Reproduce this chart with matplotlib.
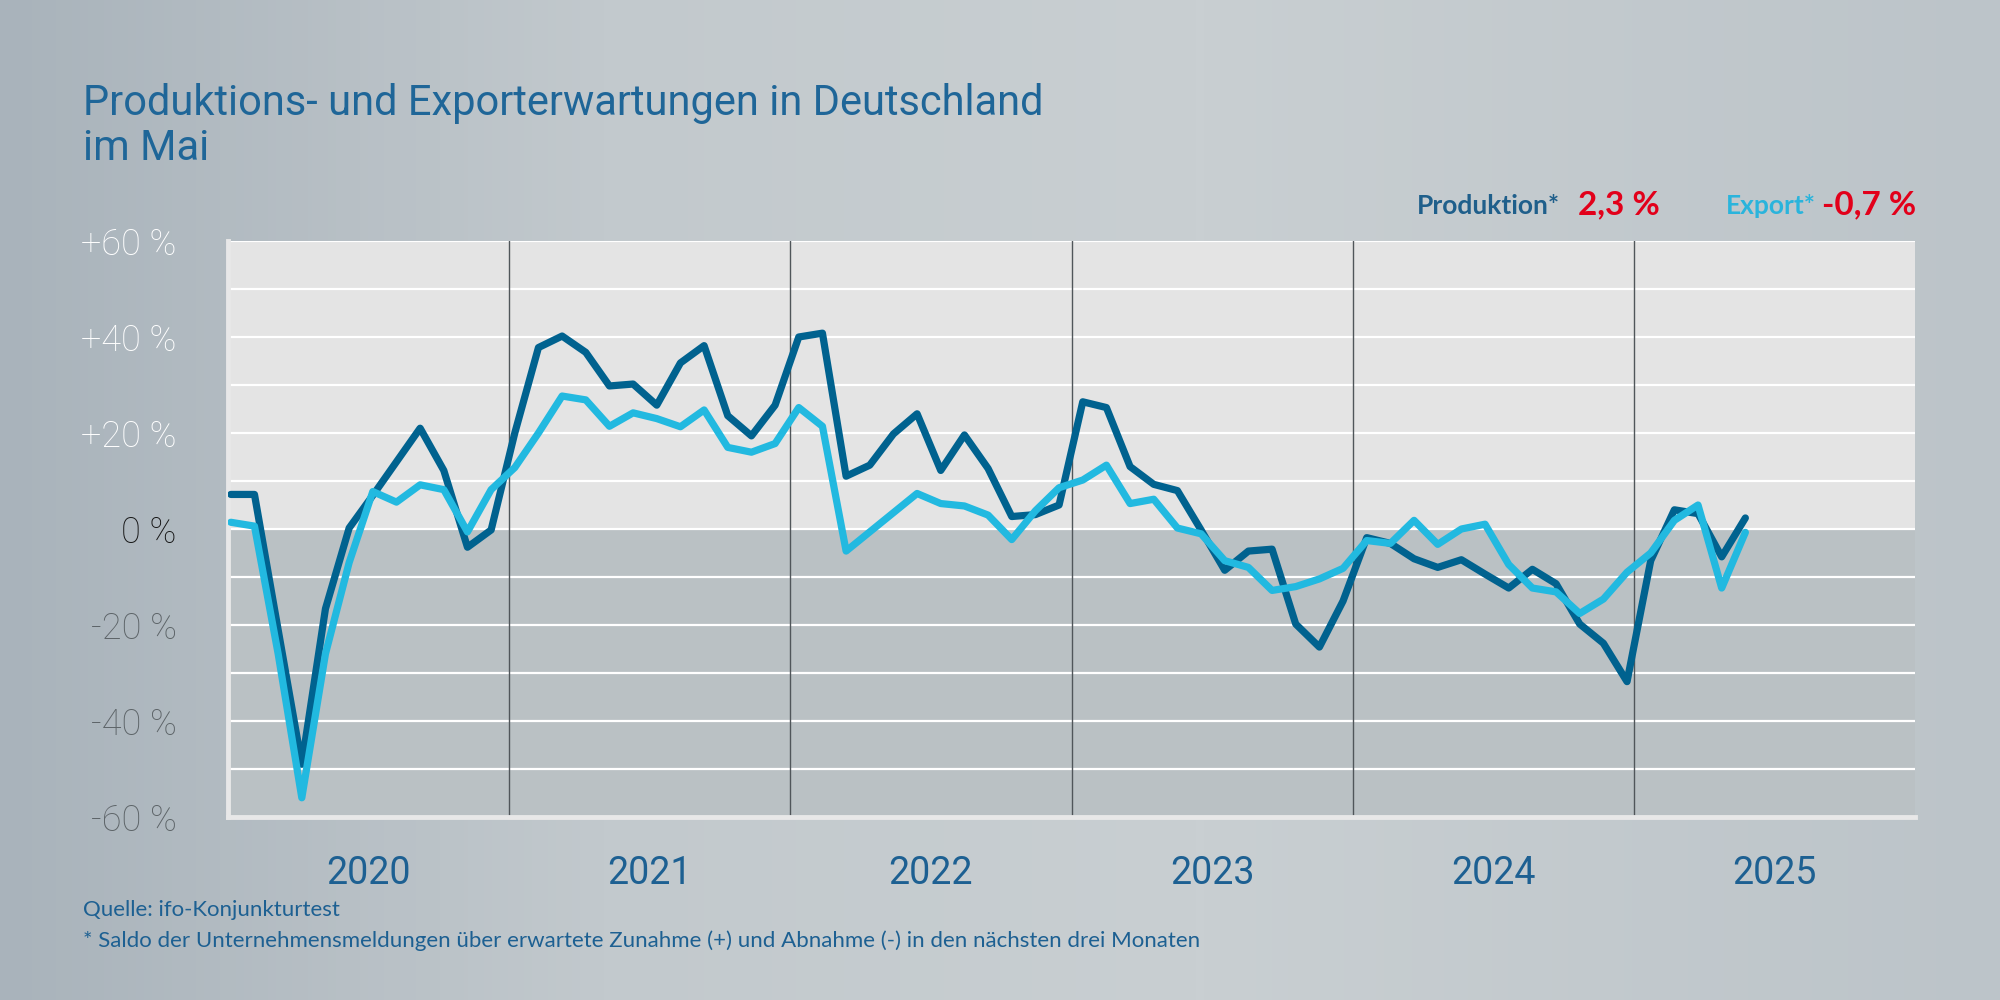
import numpy as np
import matplotlib.pyplot as plt
from matplotlib.colors import LinearSegmentedColormap

# ifo-Konjunkturtest, Salden in %, Jan 2020 bis Mai 2025
produktion = [7.2, 7.2, -21, -49, -16.6, 0.2, 7, 14, 21, 12.2, -3.8, -0.2,
              20, 37.8, 40.2, 36.8, 29.8, 30.2, 25.8, 34.6, 38.2, 23.6, 19.4, 25.8,
              40, 40.8, 11, 13.3, 19.8, 24, 12.2, 19.6, 12.6, 2.6, 3.0, 5.0,
              26.5, 25.3, 13, 9.3, 8, -0.2, -8.6, -4.6, -4.2, -19.8, -24.6, -15,
              -1.8, -3, -6.2, -8, -6.4, -9.4, -12.3, -8.4, -11.4, -19.8, -23.8, -31.8,
              -6.6, 4, 3.2, -5.8, 2.3]
export = [1.4, 0.6, -26, -56, -26, -7, 7.8, 5.6, 9.2, 8.2, -0.6, 8.2,
          12.8, 20, 27.7, 26.9, 21.4, 24.2, 23, 21.3, 24.8, 17, 16, 17.8,
          25.3, 21.4, -4.6, -0.6, 3.4, 7.4, 5.3, 4.8, 2.9, -2.2, 3.8, 8.6,
          10.2, 13.3, 5.3, 6.2, 0.2, -1, -6.6, -8, -12.8, -12, -10.4, -8.2,
          -2.4, -3, 1.8, -3.2, 0, 1.0, -7.4, -12.3, -13.1, -17.6, -14.6, -9,
          -5, 1.8, 5, -12.3, -0.7]
jahre = ['2020', '2021', '2022', '2023', '2024', '2025']
yticks = [-60, -40, -20, 0, 20, 40, 60]
ylabels = ['-60 %', '-40 %', '-20 %', '0 %', '+20 %', '+40 %', '+60 %']
ycolors = ['#5d6468', '#5d6468', '#5d6468', '#161616', 'white', 'white', 'white']

c_prod = '#00628f'
c_exp = '#22b9e0'
c_text = '#1d6092'

fig = plt.figure(figsize=(20, 10), dpi=100)

# background gradient
bg = fig.add_axes([0, 0, 1, 1], zorder=-10)
cmap = LinearSegmentedColormap.from_list('bg', [(0, '#a9b3bb'), (0.3, '#c2c9cd'),
                                                (0.6, '#c9cfd2'), (1, '#bcc4c9')])
bg.imshow(np.linspace(0, 1, 500).reshape(1, -1), cmap=cmap, aspect='auto',
          extent=[0, 1, 0, 1])
bg.set_axis_off()

ax = fig.add_axes([0.114, 0.183, 0.8435, 0.576])
ax.set_xlim(0, 72)
ax.set_ylim(-60, 60)
ax.axhspan(0, 60, color='#e4e4e4', zorder=0)
ax.axhspan(-60, 0, color='#bac1c4', zorder=0)
for y in range(-50, 61, 10):
    ax.axhline(y, color='white', lw=1.6, zorder=1)
for k in range(1, 6):
    ax.axvline(12 * k, color='#50565a', lw=1, zorder=1)

# monthly points, Jan 2020 sits right at the left edge
x = 0.12 + 1.01 * np.arange(len(produktion))
ax.plot(x, produktion, color=c_prod, lw=5.2, solid_joinstyle='round',
        solid_capstyle='round', zorder=3)
ax.plot(x, export, color=c_exp, lw=5.2, solid_joinstyle='round',
        solid_capstyle='round', zorder=4)

for s in ['top', 'right']:
    ax.spines[s].set_visible(False)
for s in ['left', 'bottom']:
    ax.spines[s].set_color('#e8e8e8')
    ax.spines[s].set_linewidth(3.5)

ax.set_yticks(yticks)
ax.set_yticklabels(ylabels, fontsize=26, fontfamily='Roboto', fontweight='light')
for lab, c in zip(ax.get_yticklabels(), ycolors):
    lab.set_color(c)
ax.tick_params(axis='y', length=0, pad=37)

ax.set_xticks([12 * k + 6 for k in range(6)])
ax.set_xticklabels(jahre, fontsize=27, fontfamily='Roboto', color=c_text)
ax.tick_params(axis='x', length=0, pad=27)

fig.text(0.0416, 0.885, 'Produktions- und Exporterwartungen in Deutschland',
         fontsize=30, fontfamily='Roboto', color='#1f6698', va='baseline')
fig.text(0.0416, 0.84, 'im Mai', fontsize=30, fontfamily='Roboto',
         color='#1f6698', va='baseline')

fig.text(0.7798, 0.786, 'Produktion*', fontsize=19, fontfamily='Lato',
         fontweight='bold', color='#1f5f8b', ha='right', va='baseline')
fig.text(0.8297, 0.786, '2,3 %', fontsize=24, fontfamily='Lato',
         fontweight='bold', color='#e2001a', ha='right', va='baseline')
fig.text(0.9078, 0.786, 'Export*', fontsize=19, fontfamily='Lato',
         fontweight='bold', color='#2ab4dc', ha='right', va='baseline')
fig.text(0.958, 0.786, '-0,7 %', fontsize=24, fontfamily='Lato',
         fontweight='bold', color='#e2001a', ha='right', va='baseline')

fig.text(0.0416, 0.084, 'Quelle: ifo-Konjunkturtest', fontsize=16,
         fontfamily='Lato', color=c_text, va='baseline')
fig.text(0.0416, 0.053, '* Saldo der Unternehmensmeldungen über erwartete Zunahme (+) '
         'und Abnahme (-) in den nächsten drei Monaten', fontsize=16,
         fontfamily='Lato', color=c_text, va='baseline')

fig.savefig('out.png', dpi=100)
